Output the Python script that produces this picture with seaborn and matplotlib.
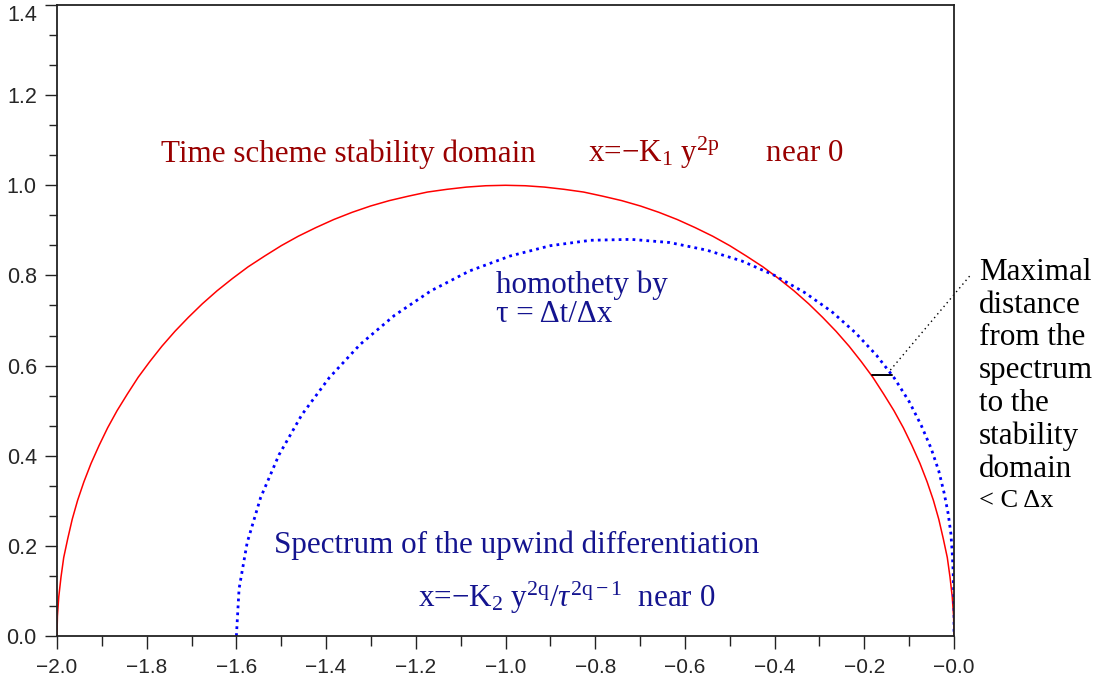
import numpy as np
import pandas as pd
import matplotlib
matplotlib.use("Agg")
import matplotlib.pyplot as plt
import seaborn as sns
from matplotlib.ticker import MultipleLocator

# Boundary of the time-scheme stability domain (upper half)
stab_x = [-2.000, -1.999, -1.996, -1.991, -1.985, -1.976, -1.966, -1.954, -1.940,
          -1.924, -1.906, -1.887, -1.866, -1.843, -1.819, -1.793, -1.766, -1.737,
          -1.707, -1.676, -1.643, -1.609, -1.574, -1.537, -1.500, -1.462, -1.423,
          -1.383, -1.342, -1.301, -1.259, -1.216, -1.174, -1.131, -1.087, -1.044,
          -1.000,
          -0.956, -0.913, -0.869, -0.826, -0.784, -0.741, -0.699, -0.658, -0.617,
          -0.577, -0.538, -0.500, -0.463, -0.426, -0.391, -0.357, -0.324, -0.293,
          -0.263, -0.234, -0.207, -0.181, -0.157, -0.134, -0.113, -0.094, -0.076,
          -0.060, -0.046, -0.034, -0.024, -0.015, -0.009, -0.004, -0.001, 0.000]
stab_y = [0.000, 0.044, 0.087, 0.131, 0.174, 0.216, 0.259, 0.301, 0.342,
          0.383, 0.423, 0.462, 0.500, 0.537, 0.574, 0.609, 0.643, 0.676,
          0.707, 0.737, 0.766, 0.793, 0.819, 0.843, 0.866, 0.887, 0.906,
          0.924, 0.940, 0.954, 0.966, 0.976, 0.985, 0.991, 0.996, 0.999,
          1.000,
          0.999, 0.996, 0.991, 0.985, 0.976, 0.966, 0.954, 0.940, 0.924,
          0.906, 0.887, 0.866, 0.843, 0.819, 0.793, 0.766, 0.737, 0.707,
          0.676, 0.643, 0.609, 0.574, 0.537, 0.500, 0.462, 0.423, 0.383,
          0.342, 0.301, 0.259, 0.216, 0.174, 0.131, 0.087, 0.044, 0.000]

# Scaled spectrum of the upwind differentiation operator
spec_x = [-1.600, -1.594, -1.576, -1.546, -1.505, -1.454, -1.393, -1.324, -1.248,
          -1.166, -1.080, -0.990, -0.900, -0.810, -0.720, -0.634, -0.551, -0.473,
          -0.400, -0.333, -0.273, -0.220, -0.173, -0.133, -0.100, -0.073, -0.051,
          -0.034, -0.022, -0.013, -0.007, -0.004, -0.002, -0.001, 0.000, 0.000, 0.000]
spec_y = [0.000, 0.105, 0.207, 0.307, 0.402, 0.491, 0.573, 0.647, 0.711,
          0.766, 0.810, 0.843, 0.866, 0.878, 0.880, 0.873, 0.856, 0.832,
          0.800, 0.762, 0.720, 0.673, 0.623, 0.572, 0.520, 0.467, 0.416,
          0.366, 0.317, 0.271, 0.227, 0.185, 0.145, 0.107, 0.071, 0.035, 0.000]

x_ticks = [-2.0, -1.8, -1.6, -1.4, -1.2, -1.0, -0.8, -0.6, -0.4, -0.2, 0.0]
x_labels = ["\u22122.0", "\u22121.8", "\u22121.6", "\u22121.4", "\u22121.2", "\u22121.0",
            "\u22120.8", "\u22120.6", "\u22120.4", "\u22120.2", "\u22120.0"]
y_ticks = [0.0, 0.2, 0.4, 0.6, 0.8, 1.0, 1.2, 1.4]
y_labels = ["0.0", "0.2", "0.4", "0.6", "0.8", "1.0", "1.2", "1.4"]

# Gap between spectrum and stability boundary at one height
gap_y = 0.579
gap_x = [-0.184, -0.139]

sns.set_style("ticks")
plt.rcParams["font.family"] = ["Liberation Sans", "DejaVu Sans"]
plt.rcParams["mathtext.fontset"] = "custom"
plt.rcParams["mathtext.rm"] = "Liberation Serif"
plt.rcParams["mathtext.it"] = "Liberation Serif:italic"

fig = plt.figure(figsize=(11, 6.86), dpi=100)
ax = fig.add_axes([0.0518, 0.0729, 0.8155, 0.9198])

stab = pd.DataFrame({"x": stab_x, "y": stab_y})
spec = pd.DataFrame({"x": spec_x, "y": spec_y})
sns.lineplot(data=stab, x="x", y="y", sort=False, ax=ax, color="#ff0000",
             linewidth=1.1, estimator=None)
sns.lineplot(data=spec, x="x", y="y", sort=False, ax=ax, color="#0000ff",
             linewidth=2.0, estimator=None, linestyle=(0, (1.0, 1.5)))

ax.plot(gap_x, [gap_y, gap_y], color="black", linewidth=1.4)
ax.plot([-0.142, 0.036], [0.590, 0.800], color="black", linewidth=1.0,
        linestyle=(0, (1, 2.5)), clip_on=False)

ax.set_xlim(-2.0, 0.0)
ax.set_ylim(0.0, 1.4)
ax.set_xticks(x_ticks)
ax.set_xticklabels(x_labels)
ax.set_yticks(y_ticks)
ax.set_yticklabels(y_labels)
ax.xaxis.set_minor_locator(MultipleLocator(0.1))
ax.yaxis.set_minor_locator(MultipleLocator(0.2 / 3))
ax.set_xlabel("")
ax.set_ylabel("")
for s in ax.spines.values():
    s.set_visible(True)
    s.set_linewidth(1.3)
    s.set_color("#222222")
ax.tick_params(axis="x", which="major", length=9.5, width=1.0, labelsize=15,
               pad=6, color="#222222")
ax.tick_params(axis="x", which="minor", length=7, width=1.0, color="#222222")
ax.tick_params(axis="y", which="major", length=8.5, width=1.0, labelsize=15.5,
               pad=6, color="#222222")
ax.tick_params(axis="y", which="minor", length=6, width=1.0, color="#222222")
# keep the top label inside the figure
ax.get_yticklabels()[-1].set_va("top")

serif = ["Liberation Serif", "DejaVu Serif"]
red_txt = "#990000"
blue_txt = "#14148f"
fs = 22.4

ax.text(-1.768, 1.052, "Time scheme stability domain", color=red_txt,
        fontsize=fs, family=serif, va="baseline")
ax.text(-0.817, 1.052, "x=\u2212K$_1$ y$^{\\mathrm{2p}}$      near 0",
        color=red_txt, fontsize=fs, family=serif, va="baseline")
ax.text(-1.022, 0.761, "homothety by", color=blue_txt, fontsize=fs,
        family=serif, va="baseline")
ax.text(-1.022, 0.697, "\u03c4 = \u0394t/\u0394x", color=blue_txt, fontsize=fs,
        family=serif, va="baseline")
ax.text(-1.516, 0.184, "Spectrum of the upwind differentiation", color=blue_txt,
        fontsize=fs, family=serif, va="baseline")
ax.text(-1.196, 0.064,
        "x=\u2212K$_2$ y$^{\\mathrm{2q}}$/$\\tau^{\\mathrm{2q\u22121}}$  near 0",
        color=blue_txt, fontsize=fs, family=serif, va="baseline")

ax.text(0.056, 0.839,
        "Maximal\ndistance\nfrom the\nspectrum\nto the\nstability\ndomain",
        color="black", fontsize=fs, family=serif, va="top", ha="left",
        linespacing=1.17, clip_on=False)
ax.text(0.056, 0.286, "< C \u0394x", color="black", fontsize=19, family=serif,
        va="baseline", ha="left", clip_on=False)

fig.savefig("out.png", dpi=100)
